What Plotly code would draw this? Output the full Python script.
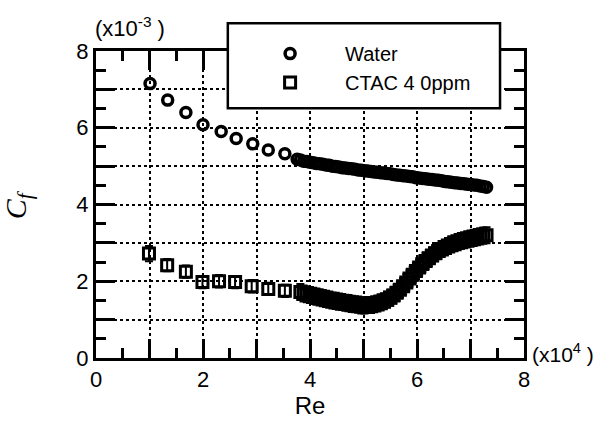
import plotly.graph_objects as go

# ---- data (Re in units of 1e4, Cf in units of 1e-3) ----
water_x = [1.01, 1.34, 1.68, 2.00, 2.34, 2.62, 2.93, 3.22, 3.53, 3.76,
           3.82, 3.88, 3.94, 4.00, 4.06, 4.12, 4.18, 4.24, 4.30, 4.36, 4.42, 4.48, 4.54, 4.60,
           4.66, 4.72, 4.78, 4.84, 4.90, 4.96, 5.02, 5.08, 5.14, 5.20, 5.26, 5.32, 5.38, 5.44,
           5.50, 5.56, 5.62, 5.68, 5.74, 5.80, 5.86, 5.92, 5.98, 6.04, 6.10, 6.16, 6.22, 6.28,
           6.34, 6.40, 6.46, 6.52, 6.58, 6.64, 6.70, 6.76, 6.82, 6.88, 6.94, 7.00, 7.06, 7.12,
           7.18, 7.24, 7.30]
water_y = [7.15, 6.72, 6.40, 6.08, 5.90, 5.72, 5.58, 5.42, 5.32, 5.18,
           5.16, 5.13, 5.12, 5.10, 5.09, 5.07, 5.06, 5.05, 5.03, 5.02, 5.00, 4.99, 4.98, 4.96,
           4.95, 4.94, 4.93, 4.92, 4.90, 4.89, 4.88, 4.87, 4.86, 4.85, 4.84, 4.83, 4.82, 4.81,
           4.80, 4.78, 4.77, 4.76, 4.75, 4.74, 4.73, 4.72, 4.70, 4.69, 4.68, 4.67, 4.66, 4.65,
           4.64, 4.63, 4.62, 4.60, 4.59, 4.58, 4.57, 4.56, 4.55, 4.54, 4.53, 4.52, 4.51, 4.50,
           4.48, 4.47, 4.45]

ctac_x = [0.99, 1.33, 1.68, 1.99, 2.30, 2.60, 2.91, 3.22, 3.53,
          3.82, 3.88, 3.94, 4.00, 4.06, 4.12, 4.18, 4.24, 4.30, 4.36, 4.42, 4.48, 4.54, 4.60,
          4.66, 4.72, 4.78, 4.84, 4.90, 4.96, 5.02, 5.08, 5.14, 5.20, 5.26, 5.32, 5.38, 5.44,
          5.50, 5.56, 5.62, 5.68, 5.74, 5.80, 5.86, 5.92, 5.98, 6.04, 6.10, 6.16, 6.22, 6.28,
          6.34, 6.40, 6.46, 6.52, 6.58, 6.64, 6.70, 6.76, 6.82, 6.88, 6.94, 7.00, 7.06, 7.12,
          7.18, 7.24, 7.30]
ctac_y = [2.72, 2.42, 2.25, 1.98, 2.00, 1.98, 1.87, 1.80, 1.75,
          1.72, 1.68, 1.66, 1.64, 1.62, 1.60, 1.58, 1.56, 1.54, 1.52, 1.50, 1.49, 1.47, 1.46,
          1.44, 1.43, 1.41, 1.40, 1.39, 1.37, 1.37, 1.38, 1.38, 1.40, 1.42, 1.45, 1.48, 1.52,
          1.57, 1.63, 1.70, 1.78, 1.87, 1.97, 2.07, 2.17, 2.27, 2.36, 2.45, 2.53, 2.60, 2.67,
          2.73, 2.79, 2.84, 2.88, 2.92, 2.96, 2.99, 3.02, 3.05, 3.07, 3.09, 3.11, 3.13, 3.15,
          3.17, 3.19, 3.20]
ctac_err = [0.2, 0.16, 0.16, 0.16, 0.16, 0.16, 0.16, 0.16, 0.16] + [0.21] * 59

x_tickvals = [0, 1, 2, 3, 4, 5, 6, 7, 8]
x_ticktext = ["0", "", "2", "", "4", "", "6", "", "8"]
y_tickvals = [0, 1, 2, 3, 4, 5, 6, 7, 8]
y_ticktext = ["0", "", "2", "", "4", "", "6", "", "8"]

fig = go.Figure()
fig.add_trace(go.Scatter(
    x=water_x, y=water_y, mode="markers", name="Water", legendgroup="a",
    marker=dict(symbol="circle-open", size=10, color="black", line=dict(width=3.5, color="black")),
))
fig.add_trace(go.Scatter(
    x=ctac_x, y=ctac_y, mode="markers", name="CTAC 4 0ppm", legendgroup="b",
    marker=dict(symbol="square-open", size=11, color="black", line=dict(width=3, color="black")),
    error_y=dict(type="data", array=ctac_err, color="black", thickness=2, width=4),
))

axis_common = dict(
    showline=True, linecolor="black", linewidth=3, mirror="ticks",
    ticks="inside", ticklen=19, tickwidth=2.5, tickcolor="black",
    tickmode="array",
    showgrid=True, gridcolor="black", griddash="dot", gridwidth=2,
    zeroline=False,
    tickfont=dict(family="Liberation Sans, Arial", size=22, color="black"),
    minor=dict(dtick=0.5, ticks="inside", ticklen=10, tickwidth=2.5, tickcolor="black", showgrid=False),
)

fig.update_xaxes(range=[0, 8], tickvals=x_tickvals, ticktext=x_ticktext,
                 title=dict(text="Re", font=dict(family="Liberation Sans, Arial", size=24, color="black"),
                            standoff=2),
                 **axis_common)
fig.update_yaxes(range=[0, 8], tickvals=y_tickvals, ticktext=y_ticktext, **axis_common)

# legend box
fig.add_shape(type="rect", xref="paper", yref="paper", x0=0.308, x1=0.944, y0=0.8135, y1=1.09,
              fillcolor="white", line=dict(color="black", width=2.5), layer="above")

fig.add_annotation(xref="paper", yref="paper", x=-0.008, y=1.025, xanchor="left", yanchor="bottom",
                   text="(x10<sup>-3</sup> )", showarrow=False,
                   font=dict(family="Liberation Sans, Arial", size=22, color="black"))
fig.add_annotation(xref="paper", yref="paper", x=1.015, y=0.015, xanchor="left", yanchor="middle",
                   text="(x10<sup>4</sup> )", showarrow=False,
                   font=dict(family="Liberation Sans, Arial", size=21, color="black"))
fig.add_annotation(xref="paper", yref="paper", x=-0.183, y=0.5, xanchor="center", yanchor="middle",
                   text="<i>C</i><sub><i>f</i></sub>", showarrow=False, textangle=-90,
                   font=dict(family="Liberation Serif, Times New Roman", size=30, color="black"))

fig.update_layout(
    width=609, height=423,
    margin=dict(l=96, r=85, t=51, b=61),
    paper_bgcolor="white", plot_bgcolor="white",
    showlegend=True,
    legend=dict(x=0.325, y=1.055, xanchor="left", yanchor="top",
                bgcolor="rgba(0,0,0,0)", borderwidth=0,
                font=dict(family="Liberation Sans, Arial", size=20, color="black"),
                itemwidth=100, tracegroupgap=0),
)

fig.write_html("out.html")
